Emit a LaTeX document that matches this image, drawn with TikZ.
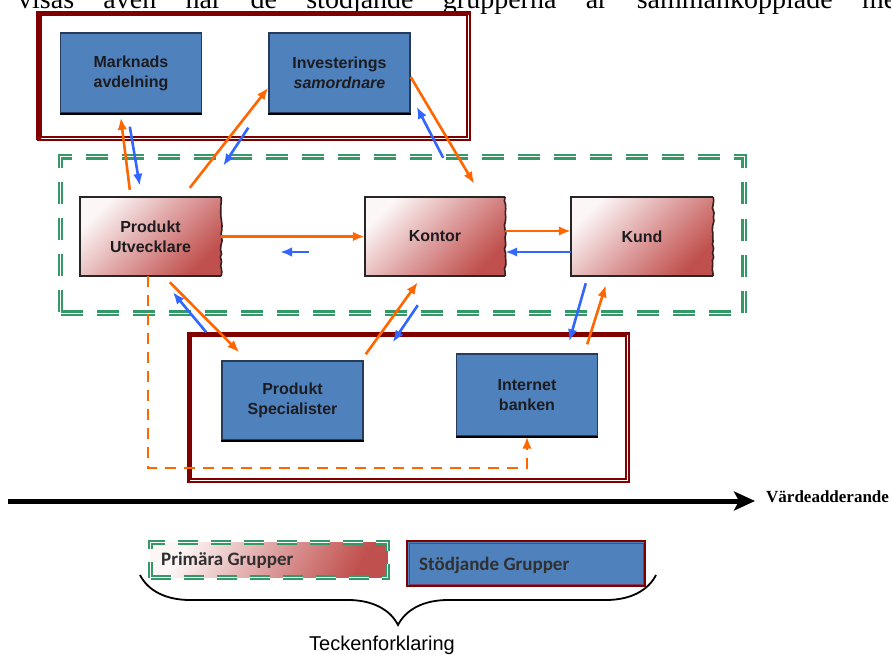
\documentclass[tikz,border=0pt]{standalone}
\usepackage{fontspec}
\setmainfont{Liberation Sans}
\newfontfamily\bodyserif{Liberation Serif}
\newfontfamily\legendsans{Carlito}
\usetikzlibrary{arrows.meta,calc,decorations.pathmorphing,decorations.pathreplacing}

\definecolor{suprred}{RGB}{128,0,0}
\definecolor{boxblue}{RGB}{79,129,189}
\definecolor{boxedge}{RGB}{38,58,92}
\definecolor{primred}{RGB}{192,80,77}
\definecolor{primmid}{RGB}{222,160,160}
\definecolor{primlight}{RGB}{252,246,246}
\definecolor{grpgreen}{RGB}{51,153,102}
\definecolor{floworange}{RGB}{255,102,0}
\definecolor{flowblue}{RGB}{51,102,255}
\definecolor{labelink}{RGB}{28,28,32}
\definecolor{legendink}{RGB}{48,48,48}
\definecolor{tornedge}{RGB}{60,30,30}
\definecolor{innerplum}{RGB}{120,60,100}

\begin{document}
\begin{tikzpicture}[x=1pt,y=-1pt,
  boxlabel/.style={font=\bfseries\fontsize{16}{20}\selectfont, text=labelink, align=center},
  supbox/.style={boxlabel, rectangle, fill=boxblue, draw=boxedge, line width=1.4pt,
    inner sep=0pt, minimum width=141pt, minimum height=80pt},
  primbox/.style={boxlabel, rectangle, top color=primlight, bottom color=primred,
    middle color=primmid, shading angle=45, inner sep=0pt,
    minimum width=141pt, minimum height=79pt},
  grpframe/.style={rectangle, draw=grpgreen, line width=2.4pt, double=white,
    double distance=1pt, dash pattern=on 22pt off 14pt, inner sep=0pt},
  supframe/.style={rectangle, draw=suprred, line width=1.8pt, double=white,
    double distance=1.5pt, inner sep=0pt},
  flow/.style={line width=2.6pt, -{Latex[length=12pt,width=9.5pt]}},
  orangeflow/.style={flow, draw=floworange},
  blueflow/.style={flow, draw=flowblue},
  legendtext/.style={font=\legendsans\bfseries\fontsize{19}{22}\selectfont, text=legendink, anchor=west, inner sep=0pt},
]
\useasboundingbox (0,0) rectangle (891,655);
\fill[white] (0,0) rectangle (891,655);

% running text line above the figure
\node[anchor=base west, inner sep=0pt, font=\bodyserif\fontsize{28}{28}\selectfont] (runon) at (18,9)
  {\makebox[892pt][s]{visas även när de stödjande grupperna är sammankopplade med}};

% group frames
\node[grpframe, minimum width=683.5pt, minimum height=156pt] (primgrp) at (402.25,235) {};
\node[supframe, minimum width=429pt, minimum height=125pt] (topgrp) at (254,76.25) {};
\draw[suprred, line width=4.5pt] (topgrp.south west) -- (topgrp.north west) -- (topgrp.north east);
\node[supframe, minimum width=438pt, minimum height=146pt] (botgrp) at (408.5,407.5) {};
\draw[suprred, line width=3.5pt] (botgrp.south west) -- (botgrp.north west) -- (botgrp.north east);

% supporting units
\node[supbox] (mark) at (131,73) {Marknads\\avdelning};
\node[supbox] (inv) at (339.5,73) {Investerings\\\textit{samordnare}};
\node[supbox, minimum height=79pt] (ps) at (292.5,400.5) {Produkt\\Specialister};
\node[supbox, minimum height=82pt] (ib) at (527,395) {Internet\\banken};
\foreach \b in {mark,inv,ps,ib}
  \draw[black, line width=2pt] (\b.south west) -- (\b.south east);

% primary units
\node[primbox] (pu) at (150.5,236.5) {Produkt\\Utvecklare};
\node[primbox, minimum width=140pt] (kon) at (435,236.5) {Kontor};
\node[primbox, minimum width=142pt] (kund) at (642,236.5) {Kund};
\pgfmathsetseed{11}
\foreach \b in {pu,kon,kund}{
  \draw[black!85, line width=2pt] (\b.north east) -- (\b.north west) -- (\b.south west) -- (\b.south east);
  \draw[tornedge, line width=1.6pt, decorate,
        decoration={random steps, segment length=4pt, amplitude=1pt}]
    (\b.north east) -- (\b.south east);
}

% flows between units
\draw[orangeflow] ($(pu.north west)+(50,-7)$) -- ($(mark.south west)+(61,4)$);
\draw[blueflow]   ($(mark.south west)+(70,13)$) -- ($(pu.north west)+(60,-11)$);
\draw[orangeflow] ($(pu.north west)+(110,-9)$) -- ($(inv.south west)+(0,-26)$);
\draw[blueflow]   ($(inv.south west)+(-20,14)$) -- ($(pu.north east)+(2,-31)$);
\draw[orangeflow] ($(inv.east)+(0,4)$) -- ($(kon.north east)+(-31,-13)$);
\draw[blueflow]   ($(kon.north east)+(-62,-39)$) -- ($(inv.south east)+(6,-7)$);
\draw[orangeflow] (pu.east) -- (kon.west);
\coordinate (retstart) at (309,252);
\coordinate (retend) at (280,252);
\draw[blueflow] (retstart) -- (retend);
\draw[orangeflow] ($(kon.east)+(0,-5.5)$) -- ($(kund.west)+(0,-5.5)$);
\draw[blueflow]   ($(kund.west)+(0,15.5)$) -- ($(kon.east)+(0,15.5)$);
\draw[orangeflow] ($(pu.south west)+(90,6)$) -- ($(ps.north west)+(18,-8)$);
\draw[blueflow]   ($(ps.north west)+(-15,-28)$) -- ($(pu.south west)+(93,16)$);
\draw[orangeflow] ($(ps.north east)+(2,-6)$) -- ($(kon.south west)+(53,6)$);
\draw[blueflow]   ($(kon.south west)+(53,29)$) -- ($(ps.north east)+(29,-18)$);
\draw[blueflow]   ($(kund.south west)+(15,7)$) -- ($(ib.north east)+(-29,-12)$);
\draw[orangeflow] ($(ib.north east)+(-11,-9)$) -- ($(kund.south west)+(35,9)$);
\coordinate (fbturn) at (527,468);
\draw[orangeflow, dash pattern=on 11pt off 8pt] ($(pu.south west)+(68,0)$) |- (fbturn) -- (ib.south);

% value axis
\coordinate (axstart) at (8,501);
\coordinate (axend) at (755,501);
\draw[black, line width=5pt, -{Stealth[length=21pt,width=19pt,inset=5pt]}] (axstart) -- (axend);
\node[anchor=west, inner sep=0pt, font=\bodyserif\bfseries\fontsize{17}{17}\selectfont] (vlabel) at (766,497) {Värdeadderande};

% legend
\node[rectangle, top color=primlight, bottom color=primred, middle color=primmid, shading angle=60,
      minimum width=237pt, minimum height=35pt, inner sep=0pt] (legprim) at (269,560) {};
\node[grpframe, minimum width=237pt, minimum height=35pt, dash pattern=on 20pt off 13pt] (legprimframe) at (269,560) {};
\node[legendtext] (legprimtext) at (161,560) {Primära Grupper};
\node[rectangle, fill=boxblue, draw=suprred, line width=2pt, minimum width=238pt, minimum height=45pt, inner sep=0pt] (legsup) at (526,563.5) {};
\draw[innerplum, line width=1pt] ($(legsup.north west)+(3,3)$) rectangle ($(legsup.south east)+(-3,-3)$);
\node[legendtext] (legsuptext) at (419,565) {Stödjande Grupper};

\coordinate (braceleft) at (140,575);
\coordinate (braceright) at (656,575);
\draw[black, line width=1.8pt, decorate, decoration={brace, amplitude=50pt}] (braceright) -- (braceleft);
\node[anchor=base, inner sep=0pt, font=\fontsize{20}{20}\selectfont] (legtitle) at (382,650) {Teckenforklaring};
\end{tikzpicture}
\end{document}
